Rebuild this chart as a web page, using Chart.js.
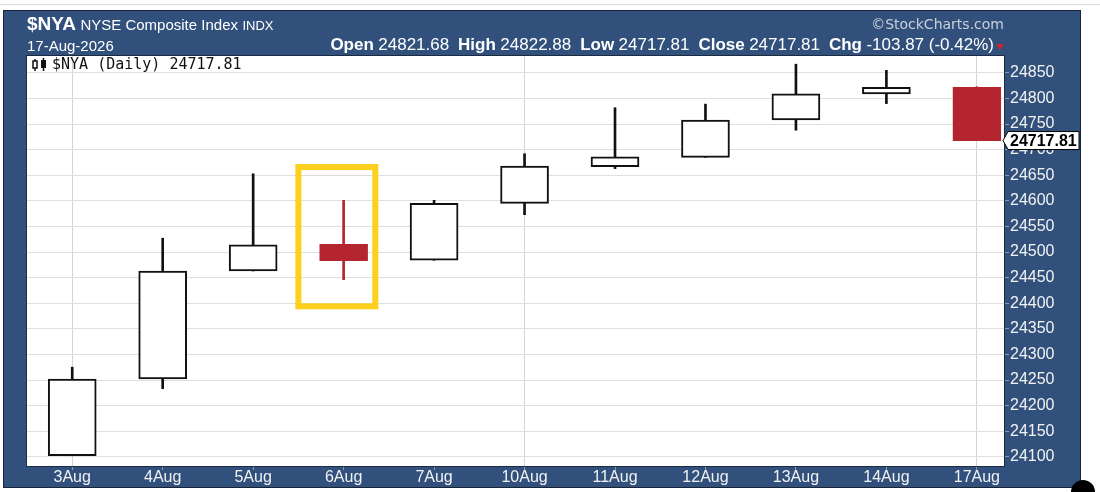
<!DOCTYPE html>
<html>
<head>
<meta charset="utf-8">
<script src="https://cdn.jsdelivr.net/npm/chart.js@4.4.1/dist/chart.umd.min.js"></script>
<style>
  html, body { margin: 0; padding: 0; background: #fff; }
  #wrap { position: relative; width: 1100px; height: 492px; overflow: hidden; font-family: "Liberation Sans", Arial, sans-serif; }
  #topline { position: absolute; left: 0; top: 4px; width: 1100px; height: 1px; background: #dcdcdc; }
  #frame { position: absolute; left: 3px; top: 10px; width: 1076px; height: 476px; background: #31507b; border: 1px solid #1a2438; }
  #dot { position: absolute; left: 1071px; top: 480px; width: 24px; height: 24px; border-radius: 50%; background: #000; }
  canvas { position: absolute; left: 0; top: 0; }
  .t { position: absolute; color: #fff; white-space: nowrap; }
  .lbl { font-weight: bold; font-size: 17px; }
  .num { font-size: 17px; }
  #tri { display: inline-block; width: 0; height: 0; border-left: 4px solid transparent; border-right: 4px solid transparent; border-top: 6px solid #c8262e; }
</style>
</head>
<body>
<div id="wrap">
  <div id="topline"></div>
  <div id="frame"></div>
  <canvas id="chart" width="1100" height="492"></canvas>
  <div class="t" style="left:27px; top:13px; line-height:22px;">
    <b style="font-size:19px;">$NYA</b> <span style="font-size:15px;">NYSE Composite Index</span> <span style="font-size:13px;">INDX</span>
  </div>
  <div class="t" style="left:27px; top:37px; font-size:15px; line-height:18px;">17-Aug-2026</div>
  <div class="t" style="right:106px; top:35px; line-height:19px;">
    <span class="lbl">Open</span> <span class="num">24821.68</span>&nbsp; <span class="lbl">High</span> <span class="num">24822.88</span>&nbsp; <span class="lbl">Low</span> <span class="num">24717.81</span>&nbsp; <span class="lbl">Close</span> <span class="num">24717.81</span>&nbsp; <span class="lbl">Chg</span> <span class="num">-103.87 (-0.42%)</span>
  </div>
  <div id="tri" style="position:absolute; left:996px; top:44px;"></div>
  <div class="t" style="right:96px; top:16px; font-family:'DejaVu Sans'; font-size:14px; color:#c9d0db;">&copy;StockCharts.com</div>
  <div id="dot"></div>
</div>
<script>
const dates  = ['3Aug', '4Aug', '5Aug', '6Aug', '7Aug', '10Aug', '11Aug', '12Aug', '13Aug', '14Aug', '17Aug'];
const opens  = [24102, 24252, 24463, 24515, 24484, 24595, 24667, 24685, 24758, 24809, 24821.68];
const highs  = [24275, 24527, 24653, 24601, 24601, 24692, 24782, 24789, 24867, 24855, 24822.88];
const lows   = [24102, 24233, 24463, 24446, 24484, 24573, 24663, 24685, 24738, 24790, 24717.81];
const closes = [24252, 24463, 24514, 24483, 24595, 24668, 24686, 24758, 24809, 24821.68, 24717.81];
const yTicks = [24100, 24150, 24200, 24250, 24300, 24350, 24400, 24450, 24500, 24550, 24600, 24650, 24700, 24750, 24800, 24850];
const weekStarts = ['3Aug', '10Aug', '17Aug'];
// highlighted day (yellow box), in data units
const boxX = [2.5, 3.35];
const boxY = [24394, 24666];

const RED = '#b5252f';
const colors = closes.map((c, i) => (i > 0 && c < closes[i - 1]) ? RED : '#111');
const filled = closes.map((c, i) => c < opens[i]);

const plotBg = {
  id: 'plotBg',
  beforeDraw(chart) {
    let { ctx, chartArea: a } = chart;
    ctx.save();
    ctx.fillStyle = '#fff';
    ctx.fillRect(a.left, a.top, a.width, a.height);
    ctx.restore();
  },
  afterDatasetsDraw(chart) {
    let { ctx, chartArea: a, scales } = chart;
    ctx.save();
    // yellow highlight box
    let x0 = scales.x.getPixelForValue(boxX[0]), x1 = scales.x.getPixelForValue(boxX[1]);
    let y0 = scales.y.getPixelForValue(boxY[1]), y1 = scales.y.getPixelForValue(boxY[0]);
    ctx.strokeStyle = '#fcd01c';
    ctx.lineWidth = 6;
    ctx.strokeRect(x0, y0, x1 - x0, y1 - y0);
    // plot border
    ctx.strokeStyle = '#1c2a42';
    ctx.lineWidth = 1;
    ctx.strokeRect(a.left - 0.5, a.top - 0.5, a.width + 1, a.height + 1);
    ctx.restore();
  },
  afterDraw(chart) {
    let { ctx, chartArea: a, scales } = chart;
    ctx.save();
    // legend icon + text
    ctx.fillStyle = '#111';
    ctx.strokeStyle = '#111';
    ctx.lineWidth = 1.5;
    ctx.strokeRect(33, 61, 4, 7);
    ctx.beginPath(); ctx.moveTo(35, 59); ctx.lineTo(35, 61); ctx.moveTo(35, 68); ctx.lineTo(35, 71); ctx.stroke();
    ctx.fillRect(41, 60, 5, 8);
    ctx.beginPath(); ctx.moveTo(43.5, 58); ctx.lineTo(43.5, 71); ctx.stroke();
    ctx.font = '15px "DejaVu Sans Mono"';
    ctx.textBaseline = 'middle';
    ctx.fillText('$NYA (Daily) ' + closes[closes.length - 1].toFixed(2), 52, 65);
    // last price tag
    let y = scales.y.getPixelForValue(closes[closes.length - 1]);
    let l = a.right + 4, r = 1079;
    ctx.beginPath();
    ctx.moveTo(a.right - 1, y);
    ctx.lineTo(l, y - 9);
    ctx.lineTo(r, y - 9);
    ctx.lineTo(r, y + 9);
    ctx.lineTo(l, y + 9);
    ctx.closePath();
    ctx.fillStyle = '#fff';
    ctx.fill();
    ctx.strokeStyle = '#000';
    ctx.lineWidth = 1;
    ctx.stroke();
    ctx.fillStyle = '#000';
    ctx.font = 'bold 16px "Liberation Sans"';
    ctx.fillText(closes[closes.length - 1].toFixed(2), l + 2, y + 1);
    ctx.restore();
  }
};

new Chart(document.getElementById('chart'), {
  type: 'bar',
  data: {
    datasets: [{
      label: 'body',
      order: 0,
      data: dates.map((d, i) => ({ x: i, y: [opens[i], closes[i]] })),
      backgroundColor: colors.map((c, i) => filled[i] ? c : '#fff'),
      borderColor: colors,
      borderWidth: 2,
      borderSkipped: false,
      barThickness: 48,
      grouped: false
    }, {
      label: 'wick',
      order: 1,
      data: dates.map((d, i) => ({ x: i, y: [lows[i], highs[i]] })),
      backgroundColor: colors,
      borderWidth: 0,
      barThickness: 2,
      grouped: false
    }]
  },
  options: {
    responsive: false,
    animation: false,
    layout: { padding: { left: 27, top: 56, right: 26, bottom: 6 } },
    plugins: { legend: { display: false }, tooltip: { enabled: false } },
    scales: {
      x: {
        type: 'linear',
        min: -0.5,
        max: 10.3,
        offset: false,
        afterBuildTicks: (s) => { s.ticks = dates.map((d, i) => ({ value: i })); },
        afterFit: (s) => { s.height = 20; },
        grid: {
          offset: false,
          color: (c) => c.tick && weekStarts.includes(dates[c.tick.value]) ? '#d4d4d4' : 'rgba(0,0,0,0)',
          tickColor: '#8d99ab',
          tickLength: 4
        },
        border: { display: false },
        ticks: {
          autoSkip: false,
          maxRotation: 0,
          padding: -2,
          color: '#f2f2f2',
          font: { family: 'Liberation Sans', size: 16 },
          callback: (v) => dates[v]
        }
      },
      y: {
        position: 'right',
        min: 24082,
        max: 24883,
        afterBuildTicks: (s) => { s.ticks = yTicks.map((v) => ({ value: v })); },
        afterFit: (s) => { s.width = 70; },
        grid: { color: '#dfdfdf', tickColor: '#8d99ab', tickLength: 5 },
        border: { display: false },
        ticks: {
          padding: 1,
          color: '#f2f2f2',
          font: { family: 'Liberation Sans', size: 16 },
          callback: (v) => String(v)
        }
      }
    }
  },
  plugins: [plotBg]
});
</script>
</body>
</html>
